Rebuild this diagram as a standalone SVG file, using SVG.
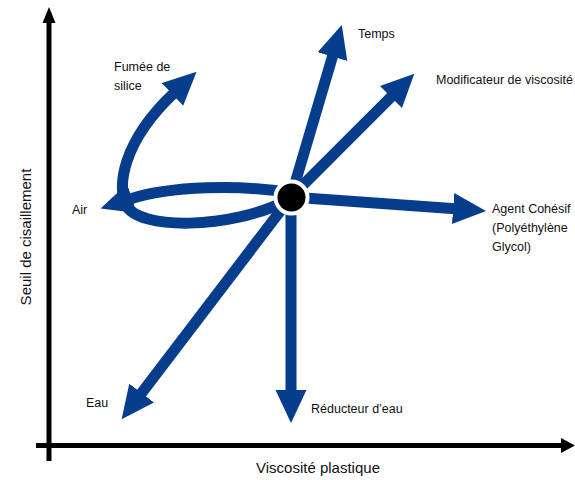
<svg xmlns="http://www.w3.org/2000/svg" width="575" height="480" viewBox="0 0 575 480">
<style>
.lbl{font-family:"Liberation Sans",Arial,sans-serif;font-size:12.5px;fill:#111}
.ax{font-family:"Liberation Sans",Arial,sans-serif;font-size:15px;fill:#111}
.arr{fill:none;stroke:#063d8c;stroke-width:11;marker-end:url(#head)}
.axis{stroke:#000;stroke-width:5;fill:none}
</style>
<defs>
<marker id="head" markerUnits="userSpaceOnUse" markerWidth="34" markerHeight="32" viewBox="0 0 34 32" refX="2" refY="16" orient="auto">
<path d="M0,0.5 L33,16 L0,31.5 z" fill="#063d8c"/>
</marker>
</defs>
<rect width="575" height="480" fill="#fff"/>
<g id="axes">
<line class="axis" x1="49" y1="461" x2="49" y2="21"/>
<polygon points="49,7 42.5,23 55.5,23" fill="#000"/>
<line class="axis" x1="36" y1="445.5" x2="563" y2="445.5"/>
<polygon points="575,445.5 561,438 561,453" fill="#000"/>
</g>
<g id="connectors">
<path id="c-temps" class="arr" d="M291,197 L333,54.7"/>
<path id="c-modif" class="arr" d="M291,197 L392.4,95.6"/>
<path id="c-agent" class="arr" d="M291,197 L455.1,208.7"/>
<path id="c-reducteur" class="arr" d="M291,197 L291,392"/>
<path id="c-eau" class="arr" d="M291,197 L140.4,394.6"/>
<path id="c-fumee" class="arr" d="M288,200 C230,230 138,230 126,205 C117,187 122,142 174,93"/>
<path id="c-air" class="arr" d="M291,193 C240,184 170,186 130,199"/>
</g>
<g id="center">
<circle cx="291.5" cy="197.5" r="16" fill="#000" stroke="#fff" stroke-width="4"/>
</g>
<g id="n-temps"><text class="lbl" x="358" y="38">Temps</text></g>
<g id="n-modif"><text class="lbl" x="436" y="84">Modificateur de viscosité</text></g>
<g id="n-agent"><text class="lbl" x="492" y="213">Agent Cohésif</text><text class="lbl" x="492" y="232">(Polyéthylène</text><text class="lbl" x="492" y="251">Glycol)</text></g>
<g id="n-reducteur"><text class="lbl" x="311" y="413">Réducteur d’eau</text></g>
<g id="n-eau"><text class="lbl" x="86" y="407">Eau</text></g>
<g id="n-air"><text class="lbl" x="72" y="214">Air</text></g>
<g id="n-fumee"><text class="lbl" x="114" y="71">Fumée de</text><text class="lbl" x="114" y="90">silice</text></g>
<g id="axis-labels">
<text class="ax" x="318" y="473" text-anchor="middle">Viscosité plastique</text>
<text class="ax" transform="translate(31,237) rotate(-90)" text-anchor="middle">Seuil de cisaillement</text>
</g>
</svg>
